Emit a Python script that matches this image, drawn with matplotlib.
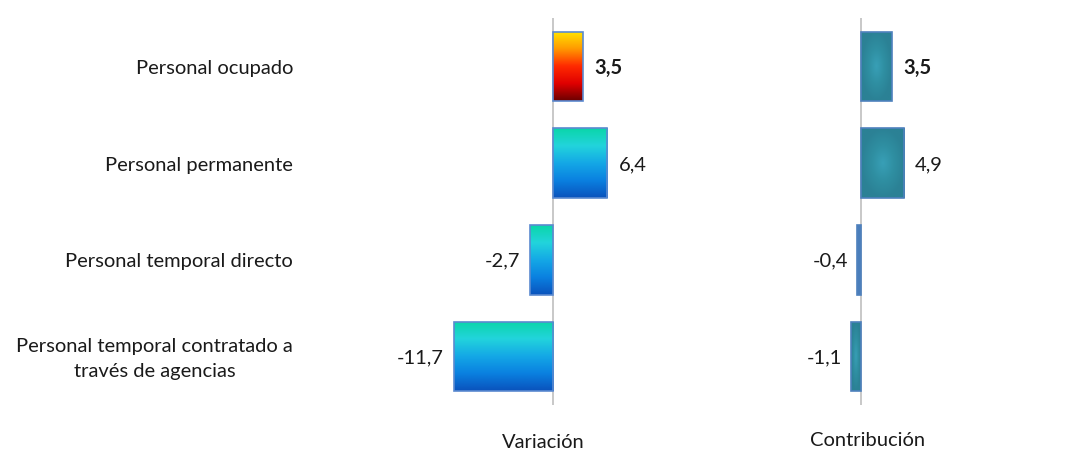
import numpy as np
import matplotlib.pyplot as plt
from matplotlib.colors import LinearSegmentedColormap

plt.rcParams['font.family'] = ['Lato', 'DejaVu Sans']

categorias = ['Personal ocupado', 'Personal permanente', 'Personal temporal directo',
              'Personal temporal contratado a\ntravés de agencias']
variacion = [3.5, 6.4, -2.7, -11.7]
contribucion = [3.5, 4.9, -0.4, -1.1]

W, H = 1066, 451
fig = plt.figure(figsize=(W / 100, H / 100), dpi=100)

def px_axes(x0, x1, y0, y1):
    return fig.add_axes([x0 / W, 1 - y1 / H, (x1 - x0) / W, (y1 - y0) / H])

cm_warm = LinearSegmentedColormap.from_list('warm', ['#ffe600', '#ff9a00', '#ff2a00', '#e00000', '#6a0000'])
cm_cool = LinearSegmentedColormap.from_list('cool', ['#0ad6a8', '#22d4dc', '#14a8e6', '#0a80e0', '#0a52bc'])

def fill_gradient(ax, bar, cmap):
    x, y = bar.get_x(), bar.get_y()
    w, h = bar.get_width(), bar.get_height()
    grad = np.linspace(0, 1, 256).reshape(-1, 1)
    im = ax.imshow(grad, cmap=cmap, aspect='auto', extent=[x, x + w, y + h, y],
                   zorder=2, interpolation='bicubic')
    im.set_clip_path(bar)

def fill_radial(ax, bar):
    x, y = bar.get_x(), bar.get_y()
    w, h = bar.get_width(), bar.get_height()
    xx, yy = np.meshgrid(np.linspace(-1, 1, 100), np.linspace(-1, 1, 100))
    r = np.clip(np.sqrt(xx ** 2 + yy ** 2), 0, 1)
    cm = LinearSegmentedColormap.from_list('rad', ['#389fb6', '#2f8fa2', '#2b8195'])
    im = ax.imshow(r, cmap=cm, aspect='auto', extent=[x, x + w, y + h, y],
                   zorder=2, interpolation='bicubic')
    im.set_clip_path(bar)

def setup(ax, xlim):
    ax.set_xlim(*xlim)
    ax.set_ylim(3.5, -0.5)
    ax.axis('off')
    ax.axvline(0, color='#bfbfbf', lw=1.2, zorder=1)

def etiquetas(ax, valores):
    for i, v in enumerate(valores):
        off = 8 if v > 0 else -7
        ax.annotate(f'{v:.1f}'.replace('.', ','), (v, i), xytext=(off, -1),
                    textcoords='offset points', va='center',
                    ha='left' if v > 0 else 'right', fontsize=14.5,
                    fontweight='bold' if i == 0 else 'normal', color='#1a1a1a')

# Variación
ax1 = px_axes(300, 720, 18, 405)
setup(ax1, (-253 / 8.5, 167 / 8.5))
bars = ax1.barh(range(4), variacion, height=0.72, color='none',
                edgecolor='#5b8ad0', lw=1.2, zorder=3)
for i, b in enumerate(bars):
    fill_gradient(ax1, b, cm_warm if i == 0 else cm_cool)
etiquetas(ax1, variacion)

for i, c in enumerate(categorias):
    ax1.annotate(c, (-253 / 8.5, i), xytext=(-5, -1.5), textcoords='offset points',
                 ha='right', va='center', fontsize=14.5, color='#1a1a1a',
                 annotation_clip=False, multialignment='center', linespacing=1.6)

# Contribución
ax2 = px_axes(740, 1040, 18, 405)
setup(ax2, (-121 / 8.8, 179 / 8.8))
bars2 = ax2.barh(range(4), contribucion, height=0.72, color='none',
                 edgecolor='#4f81bd', lw=1.2, zorder=3)
for i, b in enumerate(bars2):
    if i == 2:
        b.set_facecolor('#4a7ebb')
    else:
        fill_radial(ax2, b)
etiquetas(ax2, contribucion)

fig.text(543 / W, 1 - 443 / H, 'Variación', ha='center', va='center', fontsize=14.5, color='#1a1a1a')
fig.text(868 / W, 1 - 440 / H, 'Contribución', ha='center', va='center', fontsize=14.5, color='#1a1a1a')

fig.savefig('out.png', dpi=100)
